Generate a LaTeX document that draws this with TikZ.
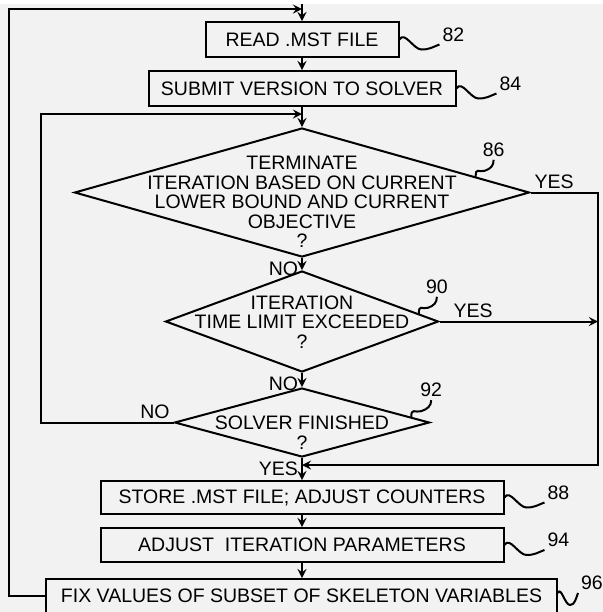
\documentclass[tikz,border=0pt]{standalone}
\usepackage{fontspec}
\setmainfont{Liberation Sans}
\usetikzlibrary{shapes.geometric,calc}
\definecolor{paper}{RGB}{242,242,242}

\begin{document}
\begin{tikzpicture}[x=0.5pt, y=-0.5pt, line width=1pt, >=stealth,
    font=\fontsize{9.75}{9.7}\selectfont,
    stepbox/.style={draw, fill=paper, inner sep=0pt},
    decision/.style={draw, diamond, inner sep=0pt},
    qtext/.style={align=center, inner sep=0pt},
    flag/.style={inner sep=1.5pt},
    tag/.style={inner sep=1pt}]
    % paper
    \fill[paper] (0,0) rectangle (603,612);
    \fill[white] (0,0) rectangle (603,4);
    \useasboundingbox (0,0) rectangle (603,612);

    % boxes
    \node[stepbox, minimum width=96.5pt, minimum height=17.5pt] (read) at (302,39.5) {READ .MST FILE};
    \node[stepbox, minimum width=153.5pt, minimum height=17.5pt] (submit) at (302,88.5) {SUBMIT VERSION TO SOLVER};
    \node[stepbox, minimum width=201.5pt, minimum height=16.5pt] (store) at (302,497.5) {STORE .MST FILE; ADJUST COUNTERS};
    \node[stepbox, minimum width=201.5pt, minimum height=17pt] (adjust) at (302,545) {ADJUST\ \ ITERATION PARAMETERS};
    \node[stepbox, minimum width=255.5pt, minimum height=17pt] (fix) at (301.5,596) {FIX VALUES OF SUBSET OF SKELETON VARIABLES};

    % decisions
    \node[decision, minimum width=227.5pt, minimum height=64.5pt] (term) at (302,192.5) {};
    \node[qtext] (termq) at (302,202) {TERMINATE\\ITERATION BASED ON CURRENT\\LOWER BOUND AND CURRENT\\OBJECTIVE\\?};
    \node[decision, minimum width=136.5pt, minimum height=50.5pt] (limit) at (302,321.5) {};
    \node[qtext] (limitq) at (302,322) {ITERATION\\TIME LIMIT EXCEEDED\\?};
    \node[decision, minimum width=127.5pt, minimum height=34.5pt] (fin) at (302,422.5) {};
    \node[qtext] (finq) at (302,432.5) {SOLVER FINISHED\\?};

    % joins
    \coordinate (topin) at (302,4);
    \coordinate (in1) at (302,9);
    \coordinate (in2) at (302,114);
    \coordinate (in3) at (302,465);

    % main line
    \draw[->] (topin) -- (read);
    \draw[->] (read) -- (submit);
    \draw[->] (submit) -- (term);
    \draw[->] (term) -- (limit);
    \draw[->] (limit) -- (fin);
    \draw[->] (fin) -- (store);
    \draw[->] (store) -- (adjust);
    \draw[->] (adjust) -- (fix.north -| adjust);

    % loops
    \draw[->] (fix.west) -- ++(-36,0) |- (in1);
    \draw[->] (fin.west) -- ++(-132.5,0) |- (in2);
    \draw[->] (term.east) -- ++(67.5,0) coordinate (rtop) |- (in3);
    \draw[->] (limit.east) -- (limit.east -| rtop);

    % yes / no
    \node[flag, anchor=south west] (yes1) at (term.east) {YES};
    \node[flag, anchor=north east] (no1) at (term.south) {NO};
    \node[flag, anchor=south west, xshift=5pt] (yes2) at (limit.east) {YES};
    \node[flag, anchor=north east] (no2) at (limit.south) {NO};
    \node[flag, anchor=south east] (no3) at (fin.west) {NO};
    \node[flag, anchor=north east] (yes3) at (fin.south) {YES};

    % reference numbers
    \draw (read.east) .. controls +(5,-9) and +(-8,0) .. ++(22,10) .. controls +(8,0) and +(-8,3) .. ++(18,-5) node[tag, anchor=south west] {82};
    \draw (submit.east) .. controls +(5,-9) and +(-8,0) .. ++(22,10) .. controls +(8,0) and +(-8,3) .. ++(18,-5) node[tag, anchor=south west] {84};
    \draw (store.east) .. controls +(5,-9) and +(-8,0) .. ++(22,10) .. controls +(8,0) and +(-8,3) .. ++(18,-5) node[tag, anchor=south west] {88};
    \draw (adjust.east) .. controls +(5,-9) and +(-8,0) .. ++(22,10) .. controls +(8,0) and +(-8,3) .. ++(18,-5) node[tag, anchor=south west] {94};
    \draw ([yshift=1.5pt]fix.east) .. controls +(3,-7) and +(-5,0) .. ++(12,12) .. controls +(5,0) and +(-2,5) .. ++(8,-12) node[tag, anchor=south west] {96};
    \draw ($(term.north)!0.76!(term.east)$) .. controls +(0,-10) and +(-6,2) .. ++(9,-6) .. controls +(6,-2) and +(0,6) .. ++(9,-11) node[tag, anchor=south] {86};
    \draw ($(limit.north)!0.85!(limit.east)$) .. controls +(0,-10) and +(-6,2) .. ++(9,-6) .. controls +(6,-2) and +(0,6) .. ++(9,-11) node[tag, anchor=south] {90};
    \draw ($(fin.north)!0.85!(fin.east)$) .. controls +(0,-10) and +(-6,2) .. ++(10,-6) .. controls +(6,-2) and +(0,6) .. ++(10,-11) node[tag, anchor=south] {92};
\end{tikzpicture}
\end{document}
